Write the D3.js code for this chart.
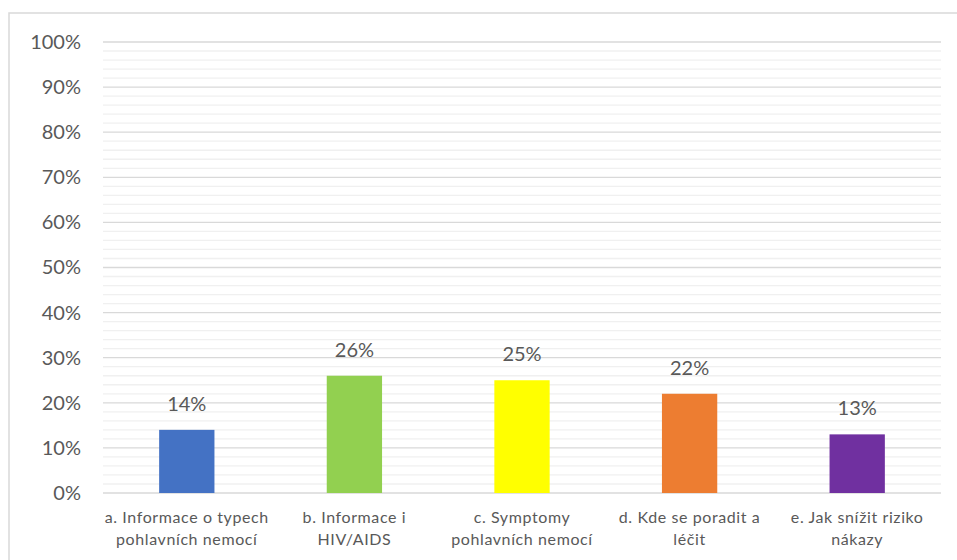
<!DOCTYPE html>
<html>
<head>
<meta charset="utf-8">
<script src="https://cdn.jsdelivr.net/npm/d3@7"></script>
<style>
  html, body { margin: 0; padding: 0; background: #fff; }
  svg { display: block; }
  text { font-family: Lato, "Open Sans", sans-serif; fill: #595959; }
</style>
</head>
<body>
<svg id="chart" width="957" height="560"></svg>
<script>
// Survey answers (share of respondents)
const categories = [
  ["a. Informace o typech", "pohlavních nemocí"],
  ["b. Informace i", "HIV/AIDS"],
  ["c. Symptomy", "pohlavních nemocí"],
  ["d. Kde se poradit a", "léčit"],
  ["e. Jak snížit riziko", "nákazy"]
];
const values = [14, 26, 25, 22, 13];
const barColors = ["#4472C4", "#92D050", "#FFFF00", "#ED7D31", "#7030A0"];
const majorTicks = [0, 10, 20, 30, 40, 50, 60, 70, 80, 90, 100];
const minorTicks = d3.range(0, 101, 2).filter(v => v % 10 !== 0);

const svg = d3.select("#chart");
const margin = { left: 103, right: 16, top: 42, bottom: 67 };
const W = 957, H = 560;

// Chart frame (light border on top and left)
svg.append("rect")
  .attr("x", 9).attr("y", 13)
  .attr("width", 970).attr("height", 600)
  .attr("fill", "#fff")
  .attr("stroke", "#d9d9d9")
  .attr("stroke-width", 1.5);

const x = d3.scaleBand()
  .domain(d3.range(categories.length))
  .range([margin.left, W - margin.right])
  .paddingInner(0.67)
  .paddingOuter(0.335);

const y = d3.scaleLinear()
  .domain([0, 100])
  .range([H - margin.bottom, margin.top]);

// Minor gridlines every 2 %
svg.append("g")
  .selectAll("line")
  .data(minorTicks)
  .join("line")
  .attr("x1", margin.left).attr("x2", W - margin.right)
  .attr("y1", d => y(d)).attr("y2", d => y(d))
  .attr("stroke", "#f0f0f0")
  .attr("stroke-width", 1.3);

// Major gridlines every 10 %
svg.append("g")
  .selectAll("line")
  .data(majorTicks)
  .join("line")
  .attr("x1", margin.left).attr("x2", W - margin.right)
  .attr("y1", d => y(d)).attr("y2", d => y(d))
  .attr("stroke", "#d9d9d9")
  .attr("stroke-width", 1.3);

// Y axis labels
const yAxis = d3.axisLeft(y)
  .tickValues(majorTicks)
  .tickFormat(d => d + "%")
  .tickSize(0)
  .tickPadding(22);
const yg = svg.append("g")
  .attr("transform", `translate(${margin.left},0)`)
  .call(yAxis);
yg.select(".domain").remove();
yg.selectAll("text")
  .attr("font-size", 20)
  .style("font-family", "Lato, sans-serif")
  .attr("fill", "#595959");

// Bars
svg.append("g")
  .selectAll("rect")
  .data(values)
  .join("rect")
  .attr("x", (d, i) => x(i))
  .attr("width", x.bandwidth())
  .attr("y", d => y(d))
  .attr("height", d => y(0) - y(d))
  .attr("fill", (d, i) => barColors[i]);

// Value labels
svg.append("g")
  .selectAll("text")
  .data(values)
  .join("text")
  .attr("x", (d, i) => x(i) + x.bandwidth() / 2)
  .attr("y", d => y(d) - 19)
  .attr("text-anchor", "middle")
  .attr("font-size", 20)
  .text(d => d + "%");

// Category labels (two lines)
const cat = svg.append("g")
  .selectAll("text")
  .data(categories)
  .join("text")
  .attr("x", (d, i) => x(i) + x.bandwidth() / 2)
  .attr("y", 523)
  .attr("text-anchor", "middle")
  .attr("font-size", 16)
  .style("letter-spacing", "0.6px");
cat.selectAll("tspan")
  .data(d => d)
  .join("tspan")
  .attr("x", function () { return d3.select(this.parentNode).attr("x"); })
  .attr("dy", (d, j) => j === 0 ? 0 : 22)
  .text(d => d);
</script>
</body>
</html>
